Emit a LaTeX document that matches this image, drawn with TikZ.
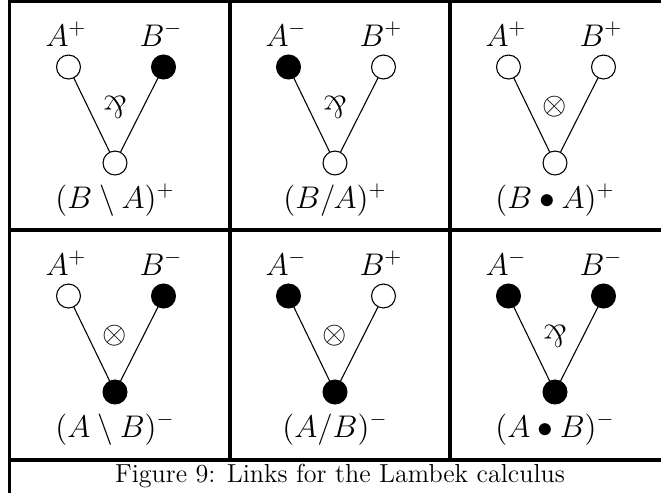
\documentclass[tikz,border=0pt]{standalone}
\usepackage{amsmath,amssymb}
\usepackage{graphicx}
\newcommand{\parrsym}{\rotatebox[origin=c]{180}{\&}}

\begin{document}
\begin{tikzpicture}[
  x = 0.46pt, y = -0.46pt,
  % open and filled link ends
  posend/.style  = {circle, draw, line width=0.5pt, minimum size=11pt, inner sep=0pt, fill=white},
  negend/.style  = {posend, fill=black},
  lbl/.style     = {font=\Large},
  linksym/.style = {font=\Large},
  rule/.style    = {line width=1.4pt},
  wire/.style    = {line width=0.5pt},
]
\useasboundingbox (0,0) rectangle (661,492);
\clip (0,0) rectangle (661,492);

% --- table rules
\draw[rule] (9.5,1.5) -- (680,1.5);
\draw[rule] (9.5,0) -- (9.5,500);
\draw[rule] (9.5,230) -- (680,230);
\draw[rule] (9.5,460) -- (680,460);
\draw[rule] (230,1.5) -- (230,460);
\draw[rule] (450,1.5) -- (450,460);

% --- (B \ A)^+
\begin{scope}[shift={(10,1)}]
\node[posend] (l1) at (58.5, 66) {};
\node[negend] (r1) at (153.5, 66) {};
\node[posend] (b1) at (105, 162) {};
\draw[wire] (l1) -- (b1) -- (r1);
\node[lbl] (la1) at (56, 33) {$A^+$};
\node[lbl] (lb1) at (151, 33) {$B^-$};
\node[linksym] (s1) at (105, 106) {\parrsym};
\node[lbl] (c1) at (105, 199) {$(B\setminus A)^+$};
\end{scope}

% --- (B / A)^+
\begin{scope}[shift={(230,1)}]
\node[negend] (l2) at (58.5, 66) {};
\node[posend] (r2) at (153.5, 66) {};
\node[posend] (b2) at (105, 162) {};
\draw[wire] (l2) -- (b2) -- (r2);
\node[lbl] (la2) at (56, 33) {$A^-$};
\node[lbl] (lb2) at (151, 33) {$B^+$};
\node[linksym] (s2) at (105, 106) {\parrsym};
\node[lbl] (c2) at (105, 199) {$(B/A)^+$};
\end{scope}

% --- (B o A)^+
\begin{scope}[shift={(450,1)}]
\node[posend] (l3) at (58.5, 66) {};
\node[posend] (r3) at (153.5, 66) {};
\node[posend] (b3) at (105, 162) {};
\draw[wire] (l3) -- (b3) -- (r3);
\node[lbl] (la3) at (56, 33) {$A^+$};
\node[lbl] (lb3) at (151, 33) {$B^+$};
\node[linksym] (s3) at (105, 106) {$\otimes$};
\node[lbl] (c3) at (105, 199) {$(B\bullet A)^+$};
\end{scope}

% --- (A \ B)^-
\begin{scope}[shift={(10,230)}]
\node[posend] (l4) at (58.5, 66) {};
\node[negend] (r4) at (153.5, 66) {};
\node[negend] (b4) at (105, 162) {};
\draw[wire] (l4) -- (b4) -- (r4);
\node[lbl] (la4) at (56, 33) {$A^+$};
\node[lbl] (lb4) at (151, 33) {$B^-$};
\node[linksym] (s4) at (105, 106) {$\otimes$};
\node[lbl] (c4) at (105, 199) {$(A\setminus B)^-$};
\end{scope}

% --- (A / B)^-
\begin{scope}[shift={(230,230)}]
\node[negend] (l5) at (58.5, 66) {};
\node[posend] (r5) at (153.5, 66) {};
\node[negend] (b5) at (105, 162) {};
\draw[wire] (l5) -- (b5) -- (r5);
\node[lbl] (la5) at (56, 33) {$A^-$};
\node[lbl] (lb5) at (151, 33) {$B^+$};
\node[linksym] (s5) at (105, 106) {$\otimes$};
\node[lbl] (c5) at (105, 199) {$(A/B)^-$};
\end{scope}

% --- (A o B)^-
\begin{scope}[shift={(450,230)}]
\node[negend] (l6) at (58.5, 66) {};
\node[negend] (r6) at (153.5, 66) {};
\node[negend] (b6) at (105, 162) {};
\draw[wire] (l6) -- (b6) -- (r6);
\node[lbl] (la6) at (56, 33) {$A^-$};
\node[lbl] (lb6) at (151, 33) {$B^-$};
\node[linksym] (s6) at (105, 106) {\parrsym};
\node[lbl] (c6) at (105, 199) {$(A\bullet B)^-$};
\end{scope}

\node[font=\large] (cap) at (340, 476) {Figure 9: Links for the Lambek calculus};

\end{tikzpicture}
\end{document}
